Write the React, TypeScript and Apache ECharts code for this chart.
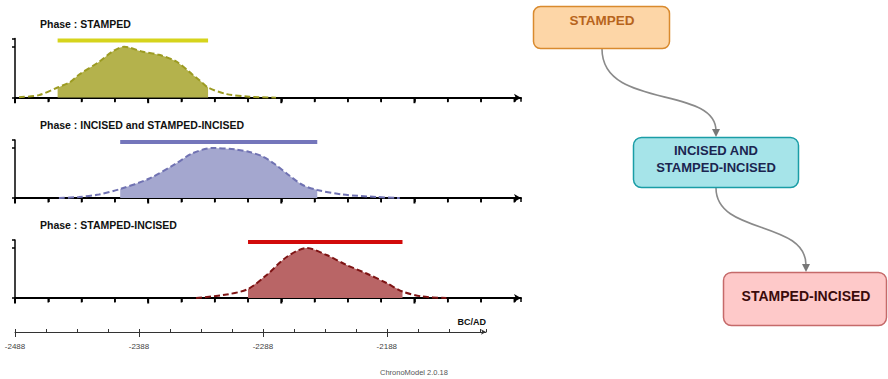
import React, { useEffect, useRef } from "react";
import * as echarts from "echarts";

// ---- axis (years BC/AD) ----
const xMin = -2488;
const xMax = -2108;
const minorStep = 25;
const majorStep = 100;
const minorTickYears = [-2463, -2438, -2413, -2363, -2338, -2313, -2263, -2238, -2213, -2163, -2138, -2113];
const majorTickYears = [-2488, -2388, -2288, -2188];
const axisUnit = "BC/AD";
const footer = "ChronoModel 2.0.18";

// ---- phases ----
const phaseTitles = ["Phase : STAMPED", "Phase : INCISED and STAMPED-INCISED", "Phase : STAMPED-INCISED"];

const stampedYears = [-2485, -2470, -2456, -2447, -2440, -2425, -2415, -2406, -2392, -2380, -2367, -2355, -2349, -2343, -2329, -2312, -2292];
const stampedDensity = [0.01, 0.05, 0.2, 0.3, 0.45, 0.7, 0.9, 1.0, 0.9, 0.84, 0.71, 0.46, 0.33, 0.2, 0.07, 0.02, 0];
const stampedHpd = [-2456, -2343];

const incisedYears = [-2455, -2440, -2425, -2409, -2387, -2367, -2355, -2340, -2322, -2312, -2302, -2293, -2282, -2272, -2261, -2242, -2216, -2199];
const incisedDensity = [0, 0.02, 0.07, 0.18, 0.39, 0.69, 0.89, 1.0, 0.97, 0.92, 0.83, 0.68, 0.45, 0.26, 0.16, 0.07, 0.02, 0];
const incisedHpd = [-2409, -2261];

const stampedIncisedYears = [-2352, -2329, -2313, -2299, -2284, -2269, -2254, -2239, -2224, -2209, -2197, -2182, -2164];
const stampedIncisedDensity = [0, 0.07, 0.18, 0.46, 0.82, 1.0, 0.86, 0.66, 0.49, 0.3, 0.13, 0.03, 0];
const stampedIncisedHpd = [-2313, -2197];

const hpdBarLevel = 1.12;

// ---- flow chart ----
const flowLabels = ["STAMPED", "INCISED AND\nSTAMPED-INCISED", "STAMPED-INCISED"];

const phases = [
  { years: stampedYears, dens: stampedDensity, hpd: stampedHpd, fill: "#b4b24c", line: "#9c9b22", bar: "#d6d41c" },
  { years: incisedYears, dens: incisedDensity, hpd: incisedHpd, fill: "#a4a7cf", line: "#7072b2", bar: "#7476bb" },
  { years: stampedIncisedYears, dens: stampedIncisedDensity, hpd: stampedIncisedHpd, fill: "#b96566", line: "#7e1414", bar: "#d20a0a" },
];

const panelLayout = [
  { top: 38.5, height: 59.2, titleY: 24 },
  { top: 140, height: 58, titleY: 125 },
  { top: 240, height: 58, titleY: 225 },
];

const FONT = '"Liberation Sans", Arial, sans-serif';

// axis values are years counted from xMin
const toAxis = (year: number) => year - xMin;
const span = xMax - xMin;

export default function App() {
  const ref = useRef<HTMLDivElement>(null);
  useEffect(() => {
    if (!ref.current) return;
    const chart = echarts.init(ref.current, null, { renderer: "svg" });

    const grid: any[] = [];
    const xAxis: any[] = [];
    const yAxis: any[] = [];
    const series: any[] = [];

    // grids 0-2: density panels
    phases.forEach((p, i) => {
      const L = panelLayout[i];
      grid.push({ left: 15, width: 506, top: L.top, height: L.height, containLabel: false, outerBoundsMode: "none" });
      xAxis.push({
        type: "value", gridIndex: i, min: 0, max: span, interval: minorStep, position: "bottom",
        axisLine: { show: true, onZero: false, lineStyle: { color: "#000", width: 2 }, symbol: ["none", "arrow"], symbolSize: [6, 7] },
        axisTick: { show: true, length: 4, lineStyle: { color: "#000", width: 1.5 } },
        axisLabel: { show: false }, splitLine: { show: false },
      });
      yAxis.push({
        type: "value", gridIndex: i, min: 0, max: 1.16, interval: 1,
        axisLine: { show: true, onZero: false, lineStyle: { color: "#000", width: 1.5 } },
        axisTick: { show: true, length: 3, lineStyle: { color: "#000", width: 1.5 } },
        axisLabel: { show: false }, splitLine: { show: false },
      });
      const full = p.years.map((y, k) => [toAxis(y), p.dens[k]]);
      const fillData = full.filter((d) => d[0] >= toAxis(p.hpd[0]) && d[0] <= toAxis(p.hpd[1]));
      series.push({
        type: "line", xAxisIndex: i, yAxisIndex: i, data: fillData, smooth: 0.3, symbol: "none",
        lineStyle: { width: 0 }, areaStyle: { color: p.fill, opacity: 1 }, silent: true,
      });
      series.push({
        type: "line", xAxisIndex: i, yAxisIndex: i, data: full, smooth: 0.3, symbol: "none",
        lineStyle: { color: p.line, width: 2, type: [6, 3] }, silent: true,
      });
      series.push({
        type: "line", xAxisIndex: i, yAxisIndex: i,
        data: [[toAxis(p.hpd[0]), hpdBarLevel], [toAxis(p.hpd[1]), hpdBarLevel]],
        symbol: "none", lineStyle: { color: p.bar, width: 4, cap: "butt" }, silent: true,
      });
      // tick marks on the panel's time scale
      series.push({
        type: "scatter", xAxisIndex: i, yAxisIndex: i, clip: false, silent: true, z: 10,
        data: minorTickYears.map((t) => [toAxis(t), 0]),
        symbol: "rect", symbolSize: [1.6, 4], symbolOffset: [0, 2.5],
        itemStyle: { color: "#000", opacity: 1 },
      });
      series.push({
        type: "scatter", xAxisIndex: i, yAxisIndex: i, clip: false, silent: true, z: 10,
        data: majorTickYears.map((t) => [toAxis(t), 0]),
        symbol: "rect", symbolSize: [2, 5], symbolOffset: [0, 3],
        itemStyle: { color: "#000", opacity: 1 },
      });
    });

    // grid 3: bottom time axis
    grid.push({ left: 15, width: 471, top: 300, height: 32, containLabel: false, outerBoundsMode: "none" });
    xAxis.push({
      type: "value", gridIndex: 3, min: 0, max: span, interval: minorStep, position: "bottom",
      axisLine: { show: true, onZero: false, lineStyle: { color: "#333", width: 1 }, symbol: ["none", "arrow"], symbolSize: [4, 5] },
      axisTick: { show: true, length: 3, inside: true, lineStyle: { color: "#333", width: 1 } },
      axisLabel: { show: false }, splitLine: { show: false },
    });
    xAxis.push({
      type: "value", gridIndex: 3, min: 0, max: span, interval: majorStep, position: "bottom",
      axisLine: { show: false },
      axisTick: { show: true, length: 5, lineStyle: { color: "#333", width: 1 } },
      axisLabel: {
        show: true, fontSize: 8, color: "#444", fontFamily: FONT, margin: 10, showMaxLabel: false,
        formatter: (v: number) => (v % majorStep === 0 ? String(v + xMin) : ""),
      },
      splitLine: { show: false },
    });
    yAxis.push({ type: "value", gridIndex: 3, min: 0, max: 1, show: false });

    const graphic: any[] = [];
    phaseTitles.forEach((t, i) => {
      graphic.push({
        type: "text", x: 40, y: panelLayout[i].titleY,
        style: { text: t, font: `bold 10.5px ${FONT}`, fill: "#111", verticalAlign: "middle" },
      });
    });
    graphic.push({ type: "text", x: 486, y: 322, style: { text: axisUnit, font: `bold 9px ${FONT}`, fill: "#111", align: "right", verticalAlign: "middle" } });
    graphic.push({ type: "text", x: 380, y: 372, style: { text: footer, font: `7.5px ${FONT}`, fill: "#555", verticalAlign: "middle" } });

    // flow chart
    const arrowStroke = "#8a8a8a";
    graphic.push({
      type: "bezierCurve",
      shape: { x1: 602, y1: 49, cpx1: 602, cpy1: 110, cpx2: 716, cpy2: 85, x2: 716, y2: 131 },
      style: { stroke: arrowStroke, lineWidth: 1.6, fill: "none" },
    });
    graphic.push({ type: "polygon", shape: { points: [[712, 129], [720, 129], [716, 137]] }, style: { fill: "#777" } });
    graphic.push({
      type: "bezierCurve",
      shape: { x1: 716, y1: 188, cpx1: 716, cpy1: 235, cpx2: 806, cpy2: 220, x2: 806, y2: 265 },
      style: { stroke: arrowStroke, lineWidth: 1.6, fill: "none" },
    });
    graphic.push({ type: "polygon", shape: { points: [[802, 264], [810, 264], [806, 272]] }, style: { fill: "#777" } });

    graphic.push({ type: "rect", shape: { x: 533.5, y: 6.5, width: 136, height: 42, r: 7 }, style: { fill: "#fdd6a7", stroke: "#d98a2e", lineWidth: 1.5 } });
    graphic.push({ type: "text", x: 602, y: 20, style: { text: flowLabels[0], font: `bold 13.5px ${FONT}`, fill: "#b7641c", align: "center", verticalAlign: "middle" } });

    graphic.push({ type: "rect", shape: { x: 633.5, y: 137.5, width: 165, height: 50, r: 8 }, style: { fill: "#a6e4e9", stroke: "#1a9da6", lineWidth: 1.5 } });
    graphic.push({ type: "text", x: 716, y: 158.5, style: { text: flowLabels[1], font: `bold 13px ${FONT}`, fill: "#1b2550", align: "center", verticalAlign: "middle", lineHeight: 17 } });

    graphic.push({ type: "rect", shape: { x: 723.5, y: 272.5, width: 163, height: 53, r: 8 }, style: { fill: "#fec9c9", stroke: "#c56a6a", lineWidth: 1.5 } });
    graphic.push({ type: "text", x: 806, y: 296, style: { text: flowLabels[2], font: `bold 14px ${FONT}`, fill: "#3a0b0b", align: "center", verticalAlign: "middle" } });

    chart.setOption({ animation: false, backgroundColor: "#fff", grid, xAxis, yAxis, series, graphic });
    return () => chart.dispose();
  }, []);
  return <div ref={ref} style={{ position: "fixed", left: 0, top: 0, width: 888, height: 379 }} />;
}
